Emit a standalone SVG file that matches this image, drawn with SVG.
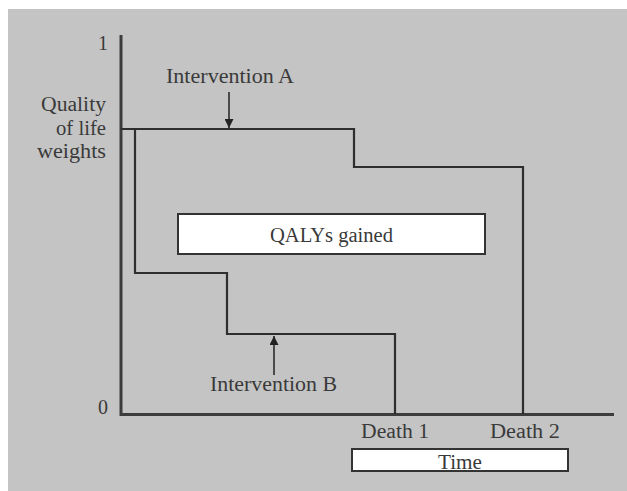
<svg xmlns="http://www.w3.org/2000/svg" width="627" height="491" viewBox="0 0 627 491">
<style>
text{font-family:"Liberation Serif","Times New Roman",serif;font-size:20px;fill:#3a3a3a}
.axis{stroke:#3c3c3c;stroke-width:3;fill:none}
.ln{stroke:#2e2e2e;stroke-width:2.2;fill:none}
.arr{stroke:#222;stroke-width:1.5;fill:none}
.box{fill:#fff;stroke:#333;stroke-width:2}
</style>
<defs>
<marker id="ah2" viewBox="0 0 10 10" refX="10" refY="5" markerWidth="15" markerHeight="9" markerUnits="userSpaceOnUse" orient="auto"><path d="M0,0L10,5L0,10z" fill="#222"/></marker>
</defs>
<rect x="0" y="0" width="627" height="491" fill="#fff"/>
<rect x="8" y="9" width="619" height="482" fill="#c4c4c4"/>
<g id="connectors">
<path class="axis" d="M121,35V414.5H614"/>
<path id="curveA" class="ln" d="M121,129H354V167H523V414"/>
<path id="curveB" class="ln" d="M135,129V273H227V334H395V414"/>
<line class="arr" x1="229" y1="92" x2="229" y2="128" marker-end="url(#ah2)"/>
<line class="arr" x1="274" y1="375" x2="274" y2="336" marker-end="url(#ah2)"/>
</g>
<g id="ylabels">
<text x="108" y="50" text-anchor="end" font-size="17">1</text>
<text x="108" y="414" text-anchor="end" font-size="18">0</text>
<text x="106" y="111" text-anchor="end" textLength="65" lengthAdjust="spacingAndGlyphs">Quality</text>
<text x="106" y="135" text-anchor="end" textLength="50" lengthAdjust="spacingAndGlyphs">of life</text>
<text x="106" y="158" text-anchor="end" textLength="69" lengthAdjust="spacingAndGlyphs">weights</text>
</g>
<g id="interventionA"><text x="166" y="83" textLength="128" lengthAdjust="spacingAndGlyphs">Intervention A</text></g>
<g id="interventionB"><text x="210" y="391" textLength="127" lengthAdjust="spacingAndGlyphs">Intervention B</text></g>
<g id="qalys">
<rect class="box" x="178" y="214" width="307" height="40"/>
<text x="270" y="242" textLength="123" lengthAdjust="spacingAndGlyphs">QALYs gained</text>
</g>
<g id="death1"><text x="361" y="438" textLength="68" lengthAdjust="spacingAndGlyphs">Death 1</text></g>
<g id="death2"><text x="490" y="438" textLength="70" lengthAdjust="spacingAndGlyphs">Death 2</text></g>
<g id="time">
<rect class="box" x="352" y="449" width="216" height="22"/>
<text x="438" y="469" textLength="44" lengthAdjust="spacingAndGlyphs">Time</text>
</g>
</svg>
